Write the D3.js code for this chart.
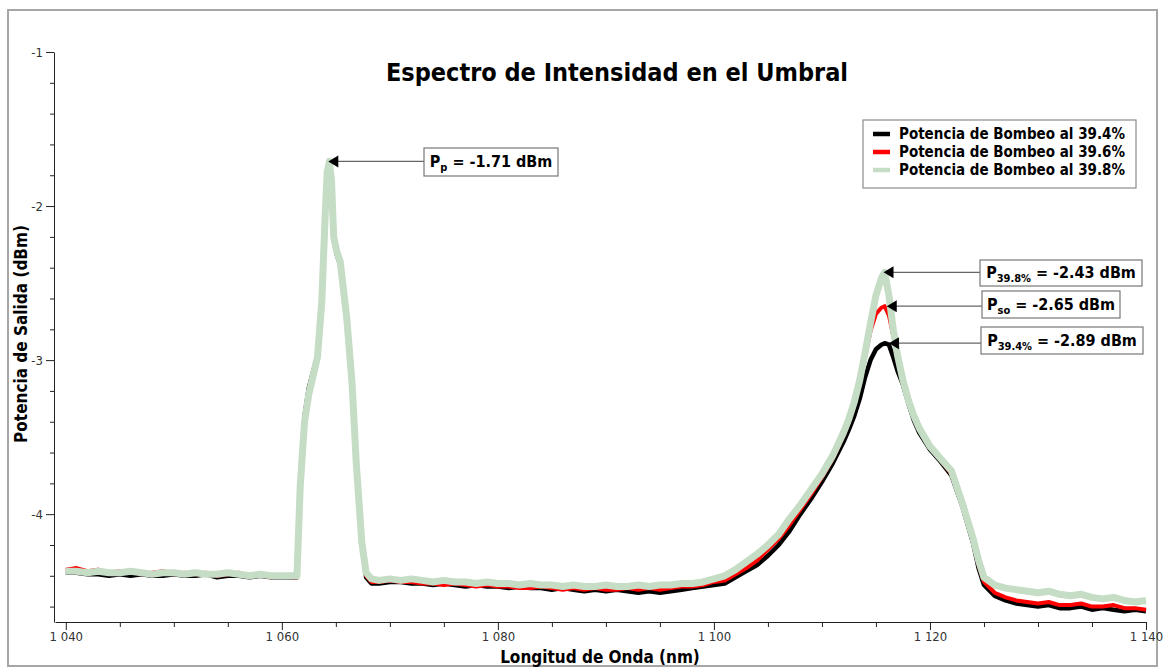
<!DOCTYPE html>
<html>
<head>
<meta charset="utf-8">
<script src="https://cdnjs.cloudflare.com/ajax/libs/d3/7.8.5/d3.min.js"></script>
<style>
  body { margin: 0; background: #fff; }
  text { font-family: Tahoma, "DejaVu Sans Condensed", "DejaVu Sans", sans-serif; }
</style>
</head>
<body>
<div id="chart"></div>
<script>
// wavelength (nm), shared by the three spectra
var wavelength = [
  1040, 1041, 1042, 1043, 1044, 1045, 1046, 1047, 1048, 1049, 1050, 1051, 1052, 1053, 1054, 1055, 1056, 1057, 1058, 1059, 1060, 1061,
  1061.4, 1061.7, 1062.1, 1062.5, 1062.8, 1063.3, 1063.7, 1064.0, 1064.2, 1064.4, 1064.6, 1064.8, 1065.1, 1065.4, 1066.0, 1066.5, 1066.9, 1067.4, 1067.8, 1068.3,
  1069, 1070, 1071, 1072, 1073, 1074, 1075, 1076, 1077, 1078, 1079, 1080, 1081, 1082, 1083, 1084, 1085, 1086, 1087, 1088, 1089, 1090, 1091, 1092, 1093, 1094, 1095, 1096, 1097, 1098, 1099, 1100,
  1101, 1102, 1103, 1104, 1105, 1106, 1107, 1108, 1109, 1110, 1111, 1112,
  1112.5, 1113, 1113.5, 1114, 1114.5, 1115, 1115.5, 1115.8, 1116.2, 1116.6, 1117, 1117.5, 1118, 1118.5, 1119,
  1120, 1121, 1122, 1123, 1124, 1124.5,
  1125, 1126, 1127, 1128, 1129, 1130, 1131, 1132, 1133, 1134, 1135, 1136, 1137, 1138, 1139, 1140
];

// output power (dBm) at 39.4 % pump
var p394 = [
  -4.38, -4.38, -4.39, -4.39, -4.40, -4.39, -4.40, -4.39, -4.40, -4.40, -4.39, -4.40, -4.40, -4.39, -4.41, -4.40, -4.40, -4.41, -4.40, -4.41, -4.41, -4.41,
  -4.41, -3.80, -3.36, -3.18, -3.10, -2.97, -2.62, -2.10, -1.81, -1.74, -1.87, -2.22, -2.32, -2.38, -2.73, -3.16, -3.69, -4.20, -4.41, -4.45,
  -4.45, -4.44, -4.44, -4.45, -4.45, -4.46, -4.45, -4.46, -4.47, -4.46, -4.47, -4.47, -4.48, -4.47, -4.48, -4.48, -4.49, -4.48, -4.49, -4.50, -4.49, -4.50, -4.49, -4.50, -4.51, -4.50, -4.51, -4.50, -4.49, -4.48, -4.47, -4.46,
  -4.45, -4.41, -4.37, -4.33, -4.27, -4.20, -4.11, -4.00, -3.90, -3.79, -3.67, -3.53,
  -3.45, -3.36, -3.25, -3.11, -3.00, -2.93, -2.90, -2.89, -2.90, -2.98, -3.07, -3.16, -3.28, -3.39, -3.47,
  -3.58, -3.66, -3.75, -3.95, -4.19, -4.35,
  -4.46, -4.53, -4.56, -4.58, -4.59, -4.60, -4.59, -4.61, -4.61, -4.60, -4.62, -4.61, -4.62, -4.63, -4.62, -4.63
];

// output power (dBm) at 39.6 % pump
var p396 = [
  -4.36, -4.35, -4.37, -4.36, -4.38, -4.37, -4.37, -4.39, -4.38, -4.37, -4.39, -4.38, -4.39, -4.38, -4.40, -4.39, -4.38, -4.40, -4.39, -4.41, -4.40, -4.41,
  -4.41, -3.83, -3.42, -3.24, -3.14, -2.99, -2.63, -2.10, -1.80, -1.73, -1.86, -2.21, -2.31, -2.37, -2.73, -3.16, -3.69, -4.19, -4.40, -4.44,
  -4.44, -4.43, -4.44, -4.44, -4.45, -4.45, -4.46, -4.45, -4.46, -4.47, -4.46, -4.47, -4.47, -4.48, -4.48, -4.47, -4.48, -4.49, -4.48, -4.49, -4.48, -4.49, -4.49, -4.48, -4.49, -4.48, -4.49, -4.48, -4.47, -4.47, -4.46, -4.44,
  -4.43, -4.39, -4.35, -4.30, -4.23, -4.16, -4.07, -3.97, -3.87, -3.76, -3.64, -3.49,
  -3.40, -3.29, -3.16, -2.98, -2.81, -2.70, -2.66, -2.65, -2.71, -2.84, -2.98, -3.14, -3.27, -3.37, -3.45,
  -3.57, -3.65, -3.74, -3.94, -4.18, -4.33,
  -4.44, -4.51, -4.54, -4.56, -4.57, -4.58, -4.57, -4.59, -4.59, -4.58, -4.60, -4.60, -4.59, -4.61, -4.61, -4.62
];

// output power (dBm) at 39.8 % pump
var p398 = [
  -4.37, -4.37, -4.38, -4.37, -4.38, -4.38, -4.37, -4.38, -4.39, -4.38, -4.38, -4.39, -4.38, -4.39, -4.39, -4.38, -4.39, -4.40, -4.39, -4.40, -4.40, -4.40,
  -4.40, -3.82, -3.40, -3.22, -3.13, -2.98, -2.62, -2.08, -1.78, -1.71, -1.84, -2.20, -2.30, -2.36, -2.72, -3.15, -3.68, -4.18, -4.38, -4.42,
  -4.43, -4.42, -4.43, -4.42, -4.43, -4.44, -4.43, -4.44, -4.44, -4.45, -4.44, -4.45, -4.45, -4.46, -4.45, -4.46, -4.46, -4.47, -4.46, -4.47, -4.47, -4.46, -4.47, -4.47, -4.46, -4.47, -4.46, -4.46, -4.45, -4.45, -4.44, -4.42,
  -4.40, -4.36, -4.31, -4.26, -4.20, -4.13, -4.03, -3.94, -3.84, -3.74, -3.62, -3.47,
  -3.38, -3.27, -3.13, -2.95, -2.76, -2.58, -2.47, -2.43, -2.58, -2.80, -2.97, -3.13, -3.26, -3.36, -3.44,
  -3.56, -3.64, -3.72, -3.93, -4.16, -4.30,
  -4.41, -4.46, -4.48, -4.49, -4.50, -4.51, -4.50, -4.52, -4.53, -4.52, -4.54, -4.55, -4.54, -4.56, -4.57, -4.56
];

var seriesNames = ["Potencia de Bombeo al 39.4%", "Potencia de Bombeo al 39.6%", "Potencia de Bombeo al 39.8%"];
var seriesColors = ["#000000", "#ff0000", "#c5dcc5"];

var xTicks = [1040, 1060, 1080, 1100, 1120, 1140];
var yTicks = [-1, -2, -3, -4];

// peak annotations
var annSub = ["p", "39.8%", "so", "39.4%"];
var annValue = [-1.71, -2.43, -2.65, -2.89];
var annWl = [1064.3, 1115.7, 1116.0, 1116.2];

var width = 1167, height = 668;

var svg = d3.select("#chart").append("svg")
    .attr("width", width)
    .attr("height", height);

// outer frame
svg.append("rect")
    .attr("x", 8).attr("y", 10)
    .attr("width", 1149).attr("height", 656)
    .attr("fill", "none")
    .attr("stroke", "#a6a6a6")
    .attr("stroke-width", 2);

var x = d3.scaleLinear().domain([1039, 1140]).range([55, 1146]);
var y = d3.scaleLinear().domain([-4.7, -1]).range([622, 52]);

var loc = d3.formatLocale({decimal: ".", thousands: "\u2009", grouping: [3], currency: ["", ""], minus: "-"});
var fmtX = function(d) { return loc.format(",")(d).replace("\u2009", " "); };
var fmtY = loc.format("d");

// minor ticks
var xMinor = d3.range(1040, 1141, 5).filter(function(d) { return d % 20 !== 0; });
var yMinor = d3.range(-46, -10, 2).map(function(d) { return d / 10; }).filter(function(d) { return Math.abs(d - Math.round(d)) > 1e-6; });

svg.append("g")
    .attr("transform", "translate(0,622)")
    .call(d3.axisBottom(x).tickValues(xMinor).tickSize(5).tickFormat("").tickSizeOuter(0))
    .call(function(g) { g.select(".domain").remove(); });

svg.append("g")
    .attr("transform", "translate(54,0)")
    .call(d3.axisLeft(y).tickValues(yMinor).tickSize(4).tickFormat("").tickSizeOuter(0))
    .call(function(g) { g.select(".domain").remove(); });

var xAxis = svg.append("g")
    .attr("transform", "translate(0,622)")
    .call(d3.axisBottom(x).tickValues(xTicks).tickSize(8).tickPadding(2).tickFormat(fmtX).tickSizeOuter(0));

var yAxis = svg.append("g")
    .attr("transform", "translate(54,0)")
    .call(d3.axisLeft(y).tickValues(yTicks).tickSize(8).tickPadding(3).tickFormat(fmtY).tickSizeOuter(0));

svg.selectAll(".tick line").attr("stroke", "#222");
svg.selectAll(".domain").attr("stroke", "#222");
svg.selectAll(".tick text")
    .attr("fill", "#333")
    .style("font-size", "13px");

// spectra
var line = d3.line()
    .x(function(d) { return x(d[0]); })
    .y(function(d) { return y(d[1]); });

var series = [p394, p396, p398];
var widths = [4.5, 4, 7];

series.forEach(function(vals, i) {
  svg.append("path")
      .datum(wavelength.map(function(w, j) { return [w, vals[j]]; }))
      .attr("d", line)
      .attr("fill", "none")
      .attr("stroke", seriesColors[i])
      .attr("stroke-width", widths[i])
      .attr("stroke-linejoin", "round");
});

// title
svg.append("text")
    .attr("x", 617)
    .attr("y", 81)
    .attr("text-anchor", "middle")
    .style("font-size", "25px")
    .style("font-weight", "bold")
    .text("Espectro de Intensidad en el Umbral");

svg.append("text")
    .attr("x", 600)
    .attr("y", 663)
    .attr("text-anchor", "middle")
    .style("font-size", "17px")
    .style("font-weight", "bold")
    .text("Longitud de Onda (nm)");

svg.append("text")
    .attr("transform", "translate(27,334) rotate(-90)")
    .attr("text-anchor", "middle")
    .style("font-size", "17px")
    .style("font-weight", "bold")
    .text("Potencia de Salida (dBm)");

// legend
var legend = svg.append("g");

legend.append("rect")
    .attr("x", 863).attr("y", 120)
    .attr("width", 273).attr("height", 68)
    .attr("fill", "#fff")
    .attr("stroke", "#8c8c8c")
    .attr("stroke-width", 1.2);

seriesNames.forEach(function(name, i) {
  legend.append("line")
      .attr("x1", 873).attr("x2", 890)
      .attr("y1", 134 + i * 18).attr("y2", 134 + i * 18)
      .attr("stroke", seriesColors[i])
      .attr("stroke-width", 4.5);

  legend.append("text")
      .attr("x", 899)
      .attr("y", 139 + i * 18)
      .style("font-size", "15px")
      .style("font-weight", "bold")
      .text(name);
});

// annotation boxes: left, top, width, height
var boxes = [[424, 148, 134, 28], [980, 260, 162, 26], [982, 291, 138, 27], [981, 327, 162, 27]];

annSub.forEach(function(sub, i) {
  var b = boxes[i];
  var tipX = x(annWl[i]), tipY = y(annValue[i]);
  var g = svg.append("g");

  g.append("line")
      .attr("x1", b[0]).attr("x2", tipX + 8)
      .attr("y1", tipY).attr("y2", tipY)
      .attr("stroke", "#666")
      .attr("stroke-width", 1.2);

  g.append("path")
      .attr("d", "M" + tipX + "," + tipY + "l10,-6l0,12z")
      .attr("fill", "#000");

  g.append("rect")
      .attr("x", b[0]).attr("y", b[1])
      .attr("width", b[2]).attr("height", b[3])
      .attr("fill", "#fff")
      .attr("stroke", "#777")
      .attr("stroke-width", 1.2);

  var t = g.append("text")
      .attr("x", b[0] + b[2] / 2)
      .attr("y", b[1] + b[3] / 2 + 5)
      .attr("text-anchor", "middle")
      .style("font-size", "16px")
      .style("font-weight", "bold");

  t.append("tspan").text("P");
  t.append("tspan").attr("dy", 4).style("font-size", "11px").text(sub);
  t.append("tspan").attr("dy", -4).text(" = " + annValue[i].toFixed(2) + " dBm");
});
</script>
</body>
</html>
